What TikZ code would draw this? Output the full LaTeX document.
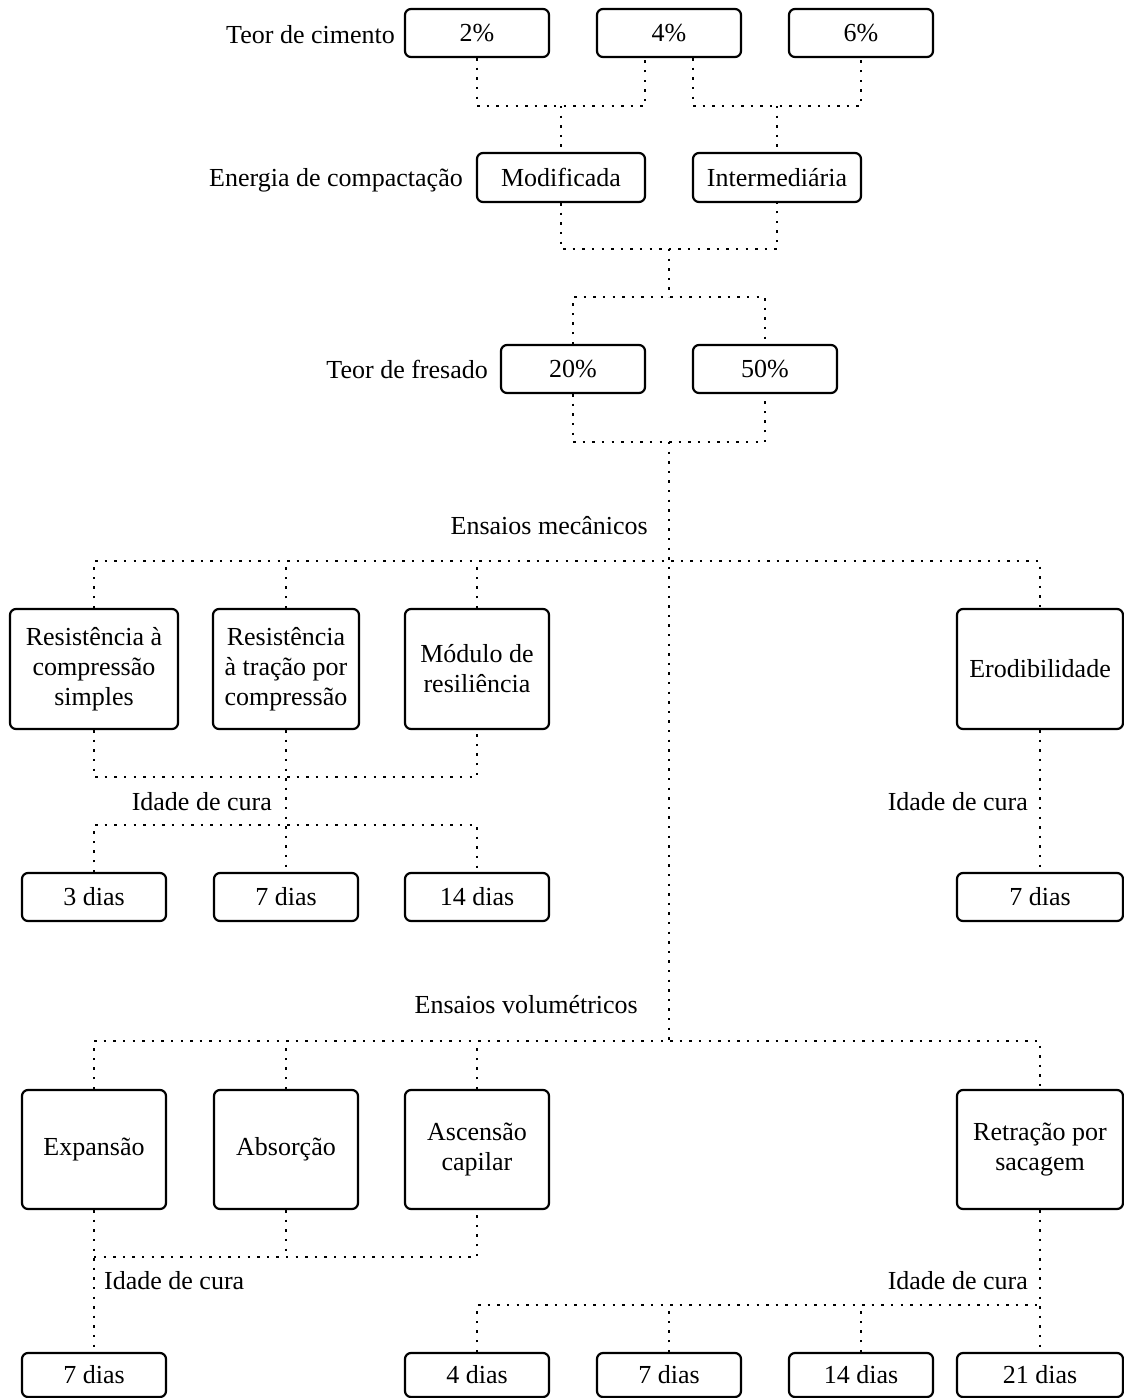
\documentclass[tikz,border=0pt]{standalone}
\usepackage{fontspec}
\setmainfont{Liberation Serif}
\begin{document}
\begin{tikzpicture}[x=1pt,y=-1pt,
  box/.style={draw, line width=2.2pt, rounded corners=6pt, align=center, inner sep=0pt,
    font=\fontsize{26}{30}\selectfont},
  sbox/.style={box, minimum width=144pt, minimum height=48pt},
  tbox/.style={box, minimum height=120pt},
  lbl/.style={font=\fontsize{26}{30}\selectfont, inner sep=0pt},
  dots/.style={line width=2.4pt, dash pattern=on 2.4pt off 7.2pt},
]
\useasboundingbox (0,0) rectangle (1124,1398);

% ---- Teor de cimento
\node[lbl, anchor=base east] (lcim) at (395,43) {Teor de cimento};
\node[sbox] (c2) at (477,33) {2\%};
\node[sbox] (c4) at (669,33) {4\%};
\node[sbox] (c6) at (861,33) {6\%};

% ---- Energia de compactacao
\node[lbl, anchor=base east] (lene) at (463,186) {Energia de compactação};
\node[box, minimum width=168pt, minimum height=49pt] (mod) at (561,177.5) {Modificada};
\node[box, minimum width=168pt, minimum height=49pt] (int) at (777,177.5) {Intermediária};

% ---- Teor de fresado
\node[lbl, anchor=base east] (lfre) at (488,378) {Teor de fresado};
\node[sbox] (f20) at (573,369) {20\%};
\node[sbox] (f50) at (765,369) {50\%};

% junctions
\coordinate (h1) at (561,106);
\coordinate (h2) at (777,106);
\coordinate (h3) at (669,249);
\coordinate (h4) at (669,297);
\coordinate (h5) at (669,442);
\coordinate (h6) at (669,561);
\coordinate (h7) at (669,1041);

\draw[dots] (c2.south) |- ([xshift=-24pt]c4.south |- h1) -- ([xshift=-24pt]c4.south);
\draw[dots] ([xshift=24pt]c4.south) |- (h2) -| (c6.south);
\draw[dots] (h1) -- (mod.north);
\draw[dots] (h2) -- (int.north);
\draw[dots] (mod.south) |- (h3) -| (int.south);
\draw[dots] (h3) -- (h4);
\draw[dots] (f20.north) |- (h4) -| (f50.north);
\draw[dots] (f20.south) |- (h5) -| (f50.south);
\draw[dots] (h5) -- (h7);

% ---- Ensaios mecanicos
\node[lbl, anchor=base east] (lmec) at (648,534) {Ensaios mecânicos};
\node[tbox, minimum width=168pt] (rcs) at (94,669) {Resistência à\\compressão\\simples};
\node[tbox, minimum width=146pt] (rtc) at (286,669) {Resistência\\à tração por\\compressão};
\node[tbox, minimum width=144pt] (mr) at (477,669) {Módulo de\\resiliência};
\node[tbox, minimum width=166pt] (ero) at (1040,669) {Erodibilidade};

\draw[dots] (rcs.north) |- (ero.north |- h6) -- (ero.north);
\draw[dots] (rtc.north) -- (rtc.north |- h6);
\draw[dots] (mr.north) -- (mr.north |- h6);

\node[sbox] (d3) at (94,897) {3 dias};
\node[sbox] (d7a) at (286,897) {7 dias};
\node[sbox] (d14a) at (477,897) {14 dias};
\node[sbox, minimum width=166pt] (d7b) at (1040,897) {7 dias};

\coordinate (k1) at (286,777);
\coordinate (k2) at (286,825);
\draw[dots] (rcs.south) |- (mr.south |- k1) -- (mr.south);
\draw[dots] (rtc.south) -- (d7a.north);
\draw[dots] (d3.north) |- (d14a.north |- k2) -- (d14a.north);
\node[lbl, anchor=base east] (lic1) at (272,810) {Idade de cura};

\draw[dots] (ero.south) -- (d7b.north);
\node[lbl, anchor=base east] (lic2) at (1028,810) {Idade de cura};

% ---- Ensaios volumetricos
\node[lbl, anchor=base east] (lvol) at (638,1013) {Ensaios volumétricos};
\node[box, minimum width=144pt, minimum height=119pt] (exp) at (94,1149.5) {Expansão};
\node[box, minimum width=144pt, minimum height=119pt] (abs) at (286,1149.5) {Absorção};
\node[box, minimum width=144pt, minimum height=119pt] (asc) at (477,1149.5) {Ascensão\\capilar};
\node[box, minimum width=166pt, minimum height=119pt] (ret) at (1040,1149.5) {Retração por\\sacagem};

\draw[dots] (exp.north) |- (ret.north |- h7) -- (ret.north);
\draw[dots] (abs.north) -- (abs.north |- h7);
\draw[dots] (asc.north) -- (asc.north |- h7);

\node[box, minimum width=144pt, minimum height=44pt] (d7c) at (94,1375) {7 dias};
\node[box, minimum width=144pt, minimum height=44pt] (d4) at (477,1375) {4 dias};
\node[box, minimum width=144pt, minimum height=44pt] (d7d) at (669,1375) {7 dias};
\node[box, minimum width=144pt, minimum height=44pt] (d14b) at (861,1375) {14 dias};
\node[box, minimum width=166pt, minimum height=44pt] (d21) at (1040,1375) {21 dias};

\coordinate (k3) at (94,1257);
\coordinate (k4) at (1040,1305);
\draw[dots] (exp.south) -- (d7c.north);
\draw[dots] (abs.south) -- (abs.south |- k3);
\draw[dots] (k3) -| (asc.south);
\node[lbl, anchor=base west] (lic3) at (104,1289) {Idade de cura};

\draw[dots] (ret.south) -- (d21.north);
\draw[dots] (d4.north) |- (k4);
\draw[dots] (d7d.north) -- (d7d.north |- k4);
\draw[dots] (d14b.north) -- (d14b.north |- k4);
\node[lbl, anchor=base east] (lic4) at (1028,1289) {Idade de cura};
\end{tikzpicture}
\end{document}
